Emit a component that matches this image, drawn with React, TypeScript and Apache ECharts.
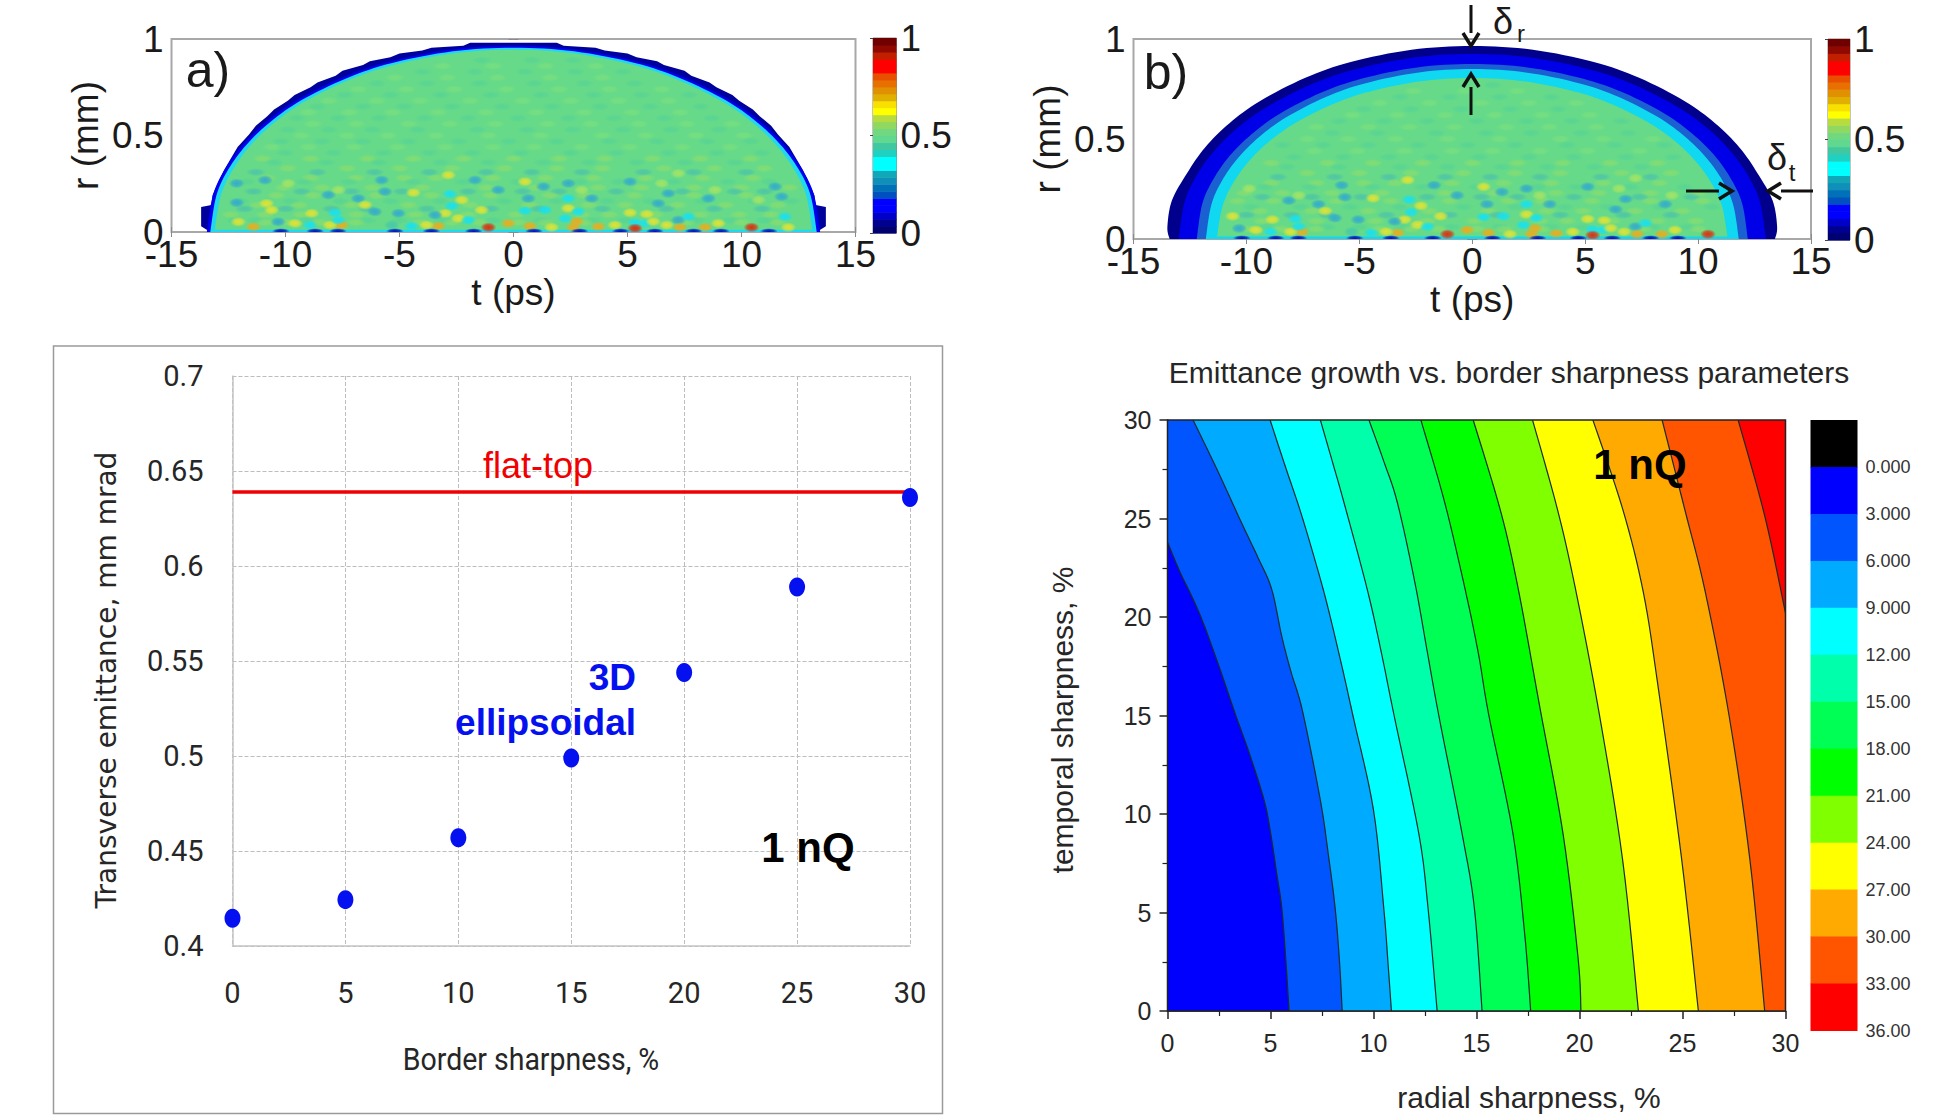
import React, { useEffect, useRef } from "react";
import * as echarts from "echarts";

// ---------- panel c ----------
const sharpness = [0, 5, 10, 15, 20, 25, 30];
const ellipsoidal = [0.4146, 0.4244, 0.457, 0.499, 0.544, 0.589, 0.636];
const flatTop = [[0, 0.639], [30, 0.639]];

// ---------- panel d ----------
const contourLabels = ["0.000", "3.000", "6.000", "9.000", "12.00", "15.00", "18.00", "21.00", "24.00", "27.00", "30.00", "33.00", "36.00"];
const bandColors = ["#0000ff", "#0055ff", "#00aaff", "#00ffff", "#00ffaa", "#00ff55", "#00ff00", "#80ff00", "#ffff00", "#ffaa00", "#ff5500", "#ff0000"];
const contour1 = [[0, 23.8], [0.6, 22.3], [1.52, 20.26], [2.4, 17.8], [3.25, 15.2], [4.0, 13.0], [4.69, 10.7], [4.98, 9.2], [5.3, 7.0], [5.55, 5.2], [5.75, 2.5], [5.9, 0]];
const contour2 = [[1.24, 30], [2.4, 27.5], [3.54, 24.9], [4.4, 23.0], [5.06, 21.4], [5.55, 19.0], [6.0, 17.2], [6.56, 15.2], [7.42, 10.7], [7.8, 8.0], [8.14, 5.2], [8.35, 2.5], [8.48, 0]];
const contour3 = [[4.98, 30], [5.7, 27.7], [6.41, 25.5], [7.1, 23.1], [7.71, 20.8], [8.4, 17.8], [9.0, 15], [10.0, 10.2], [10.5, 5.2], [10.7, 2.5], [10.87, 0]];
const contour4 = [[7.42, 30], [8.0, 27.9], [8.57, 25.8], [9.72, 21.3], [10.4, 18.1], [11.0, 15], [12.2, 9], [12.65, 5.2], [13.09, 0]];
const contour5 = [[9.78, 30], [10.5, 27.9], [11.16, 25.8], [12.0, 21.8], [12.6, 18.3], [13.17, 15], [14.3, 9], [14.9, 5.2], [15.27, 0]];
const contour6 = [[12.3, 30], [13.46, 25.8], [14.47, 21.3], [15.1, 18.1], [15.6, 15], [16.77, 9], [17.34, 3.9], [17.63, 0]];
const contour7 = [[14.84, 30], [16.19, 25.3], [17.05, 21.3], [18.06, 15.5], [19.2, 9], [19.93, 2.7], [20.07, 0]];
const contour8 = [[17.72, 30], [18.92, 25.5], [19.79, 21.5], [20.94, 15.2], [22.09, 7.7], [22.86, 0]];
const contour9 = [[20.65, 30], [22.09, 25.5], [23.09, 21.3], [23.81, 16.5], [24.96, 7.7], [25.77, 0]];
const contour10 = [[24.01, 30], [25.1, 25.5], [26.1, 21.3], [27.26, 15], [28.27, 7.7], [28.99, 0]];
const contour11 = [[27.7, 30], [29.0, 25.1], [30, 20.2]];
const contours = [[[0, 30], [0, 0]], contour1, contour2, contour3, contour4, contour5, contour6, contour7, contour8, contour9, contour10, contour11];

// ---------- panels a and b: right-hand half outlines, [t, r] ----------
const aNavy = [[0, 0.98], [1.9, 0.98], [2.2, 0.965], [3.6, 0.955], [4.0, 0.94], [5.0, 0.925], [5.4, 0.905], [6.3, 0.885], [6.6, 0.865], [7.5, 0.835], [7.8, 0.81], [8.6, 0.775], [8.9, 0.75], [9.6, 0.71], [9.9, 0.68], [10.5, 0.635], [10.8, 0.6], [11.3, 0.55], [11.6, 0.505], [12.1, 0.44], [12.3, 0.4], [12.7, 0.32], [12.9, 0.27], [13.2, 0.19], [13.25, 0.14], [13.7, 0.13], [13.7, 0.03], [13.3, 0]];
const aBlue = [[0, 0.965], [2.69, 0.946], [5.38, 0.885], [7.4, 0.806], [9.42, 0.689], [10.76, 0.579], [11.84, 0.458], [12.64, 0.329], [13.18, 0.192], [13.45, 0]];
const aCyan = [[0, 0.955], [2.66, 0.936], [5.32, 0.876], [7.32, 0.797], [9.31, 0.682], [10.64, 0.573], [11.7, 0.454], [12.5, 0.326], [13.03, 0.19], [13.3, 0]];
const aGreen = [[0, 0.945], [2.62, 0.926], [5.24, 0.866], [7.2, 0.789], [9.17, 0.675], [10.48, 0.568], [11.53, 0.45], [12.31, 0.323], [12.84, 0.188], [13.1, 0.012]];
const bNavy = [[0, 0.965], [2.69, 0.946], [5.38, 0.885], [7.39, 0.806], [9.41, 0.689], [10.75, 0.579], [11.83, 0.458], [12.63, 0.329], [13.3, 0.192], [13.5, 0.06], [13.4, 0]];
const bBlue = [[0, 0.925], [2.6, 0.907], [5.2, 0.848], [7.15, 0.772], [9.1, 0.66], [10.4, 0.555], [11.44, 0.439], [12.22, 0.315], [12.74, 0.184], [13, 0]];
const bMid = [[0, 0.875], [2.44, 0.858], [4.88, 0.802], [6.71, 0.731], [8.54, 0.625], [9.76, 0.525], [10.74, 0.416], [11.47, 0.298], [11.96, 0.174], [12.2, 0]];
const bCyan = [[0, 0.85], [2.36, 0.833], [4.72, 0.779], [6.49, 0.71], [8.26, 0.607], [9.44, 0.51], [10.38, 0.404], [11.09, 0.29], [11.56, 0.169], [11.8, 0]];
const bGreen = [[0, 0.805], [2.26, 0.789], [4.52, 0.738], [6.22, 0.672], [7.91, 0.575], [9.04, 0.483], [9.94, 0.382], [10.62, 0.274], [11.07, 0.16], [11.3, 0.012]];

// speckles read from the lower part of the field: [t, r, kind]
const speckles: [number, number, string][] = [
  [-11.41, 0.027, "o"], [-9.58, 0.045, "y"], [-8.93, 0.036, "c"], [-10.61, 0.114, "y"], [-4.39, 0.204, "y"], [-2.42, 0.071, "y"],
  [-0.23, 0.045, "o"], [-1.1, 0.024, "r"], [-3.3, 0.031, "o"], [-3.81, 0.036, "y"], [-7.54, 0.036, "o"], [-8.05, 0.036, "y"],
  [-2.71, 0.135, "c"], [-2.79, 0.197, "c"], [-7.83, 0.1, "c"], [-12.95, 0.065, "c"], [-12.14, 0.152, "b"], [-8.12, 0.192, "b"],
  [-6.81, 0.174, "b"], [-5.64, 0.209, "b"], [-5.05, 0.097, "b"], [-6.08, 0.105, "b"], [-8.85, 0.097, "y"], [-10.32, 0.053, "b"],
  [-6.51, 0.14, "y"], [-3.0, 0.097, "y"], [-2.27, 0.166, "y"], [-5.34, 0.036, "t"], [-1.98, 0.062, "c"], [-1.69, 0.269, "b"],
  [-2.86, 0.295, "y"], [-10.9, 0.269, "b"], [-12.14, 0.252, "b"], [-10.83, 0.148, "y"], [-12.65, 0.148, "y"], [-9.88, 0.252, "g"],
  [-7.68, 0.218, "g"], [-5.78, 0.269, "b"], [-1.4, 0.114, "y"], [-0.67, 0.218, "b"], [-12.07, 0.053, "y"], [-7.68, 0.062, "c"],
  [-3.44, 0.088, "b"], [-4.47, 0.031, "c"],
  [0.72, 0.031, "o"], [1.67, 0.024, "y"], [2.4, 0.123, "y"], [2.77, 0.054, "o"], [2.62, 0.024, "o"], [0.5, 0.11, "c"], [1.38, 0.114, "c"],
  [2.4, 0.174, "c"], [2.84, 0.105, "c"], [2.26, 0.07, "c"], [3.72, 0.028, "o"], [4.45, 0.036, "y"], [5.11, 0.1, "y"], [5.84, 0.093, "y"],
  [5.33, 0.048, "c"], [5.77, 0.045, "c"], [6.13, 0.054, "y"], [6.72, 0.036, "y"], [7.23, 0.062, "b"], [5.33, 0.019, "r"], [7.3, 0.024, "o"],
  [8.4, 0.024, "o"], [10.44, 0.024, "r"], [8.98, 0.045, "y"], [7.67, 0.079, "c"], [5.11, 0.261, "b"], [6.79, 0.2, "b"], [0.65, 0.174, "b"],
  [1.31, 0.235, "b"], [3.43, 0.174, "b"], [8.55, 0.174, "b"], [6.35, 0.148, "b"], [0.5, 0.261, "y"], [2.4, 0.252, "b"], [6.5, 0.252, "g"],
  [8.84, 0.218, "g"], [10.74, 0.166, "g"], [11.76, 0.183, "b"], [12.64, 0.071, "b"], [11.9, 0.079, "c"], [12.05, 0.024, "y"], [11.47, 0.235, "b"],
  [2.99, 0.218, "g"], [7.23, 0.304, "g"],
];
const baselineBlobs = [-10.2, -8.7, -7.7, -5.2, -3.6, -1.75, 0.9, 2.9, 4.7, 6.2, 7.9, 9.1, 11.2];

// faint grain of the field, estimated row by row: [r, kind, t values]
const grainRows: [number, string, number[]][] = [
  [0.92, "p", [-2.5, -0.6, 1.3, 3.2]],
  [0.89, "q", [-3.6, -1.4, 0.8, 2.6, 4.5]],
  [0.86, "p", [-5.4, -3.1, -0.9, 1.4, 3.6, 5.7]],
  [0.83, "q", [-6.2, -4.0, -1.7, 0.5, 2.7, 4.8, 6.5]],
  [0.8, "p", [-7.3, -5.2, -2.9, -0.7, 1.6, 3.9, 6.1, 7.6]],
  [0.77, "q", [-7.9, -6.0, -3.8, -1.5, 0.9, 3.1, 5.3, 7.4]],
  [0.74, "p", [-8.5, -6.8, -4.7, -2.6, -0.3, 2.0, 4.2, 6.5, 8.6]],
  [0.71, "q", [-9.1, -7.4, -5.4, -3.2, -1.0, 1.2, 3.5, 5.6, 7.7, 9.3]],
  [0.68, "p", [-9.8, -8.1, -6.0, -4.1, -1.9, 0.4, 2.5, 4.6, 6.8, 8.9]],
  [0.65, "q", [-10.0, -8.6, -6.6, -4.8, -2.7, -0.5, 1.7, 3.8, 6.0, 8.2, 10.1]],
  [0.62, "p", [-10.6, -9.0, -7.2, -5.3, -3.3, -1.2, 1.0, 3.1, 5.2, 7.3, 9.4, 10.5]],
  [0.59, "q", [-11.0, -9.5, -7.7, -5.9, -3.9, -2.0, 0.2, 2.4, 4.4, 6.6, 8.7, 10.6]],
  [0.56, "p", [-10.7, -8.8, -6.9, -4.6, -2.8, -0.8, 1.5, 3.4, 5.5, 7.6, 9.6, 11.1]],
  [0.53, "q", [-11.4, -9.9, -8.1, -6.2, -4.2, -1.6, 0.6, 2.6, 4.8, 6.9, 9.0, 10.8]],
  [0.5, "p", [-11.2, -9.3, -7.3, -5.5, -3.4, -1.1, 1.2, 3.9, 5.8, 8.0, 10.1, 11.6]],
  [0.47, "q", [-11.7, -10.2, -8.4, -6.6, -4.6, -2.4, -0.2, 1.9, 4.2, 6.3, 8.5, 10.4, 11.9]],
  [0.44, "p", [-12.1, -10.6, -9.0, -7.0, -5.1, -3.0, -0.9, 0.9, 3.0, 5.1, 7.4, 9.5, 11.3]],
  [0.41, "q", [-11.9, -10.0, -7.9, -5.7, -3.7, -1.8, 0.3, 2.5, 4.5, 6.8, 8.9, 10.9, 12.3]],
  [0.38, "l", [-11.0, -8.9, -6.4, -4.4, -2.2, 0.0, 2.0, 4.0, 6.1, 8.2, 10.4]],
  [0.36, "q", [-12.4, -10.5, -8.2, -5.9, -3.2, -1.1, 1.3, 3.3, 5.4, 7.5, 9.7, 11.7]],
  [0.33, "l", [-12.2, -9.9, -7.3, -5.0, -2.7, -0.4, 1.9, 3.9, 6.6, 8.8, 11.0, 12.4]],
  [0.31, "b", [-11.3, -8.6, -6.1, -3.7, -1.2, 0.8, 3.0, 5.7, 7.9, 10.2]],
  [0.28, "l", [-12.6, -10.8, -8.9, -6.9, -4.8, -3.4, -0.9, 1.4, 3.5, 5.8, 8.3, 10.5, 12.2]],
  [0.26, "q", [-11.7, -9.2, -7.2, -4.4, -2.2, 0.2, 2.9, 4.6, 7.0, 9.4, 11.2]],
  [0.23, "l", [-12.4, -10.1, -8.4, -6.2, -4.0, -1.2, 1.0, 3.7, 5.6, 7.9, 10.0, 12.1]],
  [0.21, "b", [-11.4, -9.3, -7.1, -4.9, -2.0, 0.4, 2.0, 4.5, 7.4, 9.7, 11.0]],
  [0.19, "l", [-12.9, -10.4, -8.8, -6.0, -3.6, -1.0, 1.6, 3.1, 5.3, 7.9, 10.2, 12.4]],
  [0.16, "q", [-12.0, -9.8, -7.6, -5.4, -3.2, -0.4, 1.9, 4.1, 6.0, 8.3, 10.6, 12.2]],
  [0.14, "l", [-12.7, -11.2, -9.4, -7.1, -4.6, -1.9, 0.7, 3.3, 4.9, 7.2, 9.3, 11.6]],
  [0.12, "b", [-11.8, -10.0, -8.0, -6.4, -3.8, -1.0, 1.1, 3.9, 6.7, 8.8, 10.9]],
  [0.09, "l", [-12.4, -10.9, -9.3, -6.9, -4.3, -2.0, 0.1, 3.0, 4.2, 6.2, 8.2, 9.9, 11.3, 12.6]],
  [0.06, "q", [-12.2, -11.3, -9.1, -6.4, -5.0, -3.1, -0.9, 1.2, 3.5, 4.9, 8.0, 9.5, 11.0]],
  [0.05, "l", [-12.7, -10.9, -9.9, -8.5, -6.9, -4.1, -2.7, -1.5, 0.2, 1.4, 3.1, 5.8, 7.6, 10.0, 11.6]],
];

const colourbarSteps = ["#000070", "#000090", "#0000c8", "#0000ff", "#0000ff", "#0050c0", "#0070b8", "#1090b8", "#10a8b8", "#00ffff", "#00ffff", "#20d0c0", "#40c8a0", "#60d890", "#70d880", "#90d860", "#b8dc40", "#ffff00", "#f8e000", "#e0b000", "#e09000", "#e87000", "#e85000", "#ff0000", "#ff0000", "#c02000", "#900800", "#700000"];
const speckleRgb: Record<string, string> = { y: "228,228,50", o: "240,170,24", r: "224,40,10", c: "20,225,245", b: "50,170,205", g: "165,228,100", t: "70,200,170", p: "140,228,118", q: "72,205,160", l: "170,224,86", d: "0,16,192" };

const SANS = "Liberation Sans";
const NARROW = "Roboto";

// smooth a read outline for drawing (same job as a line series' smooth option)
function curve(p: number[][]) {
  const out: number[][] = [];
  for (let i = 0; i < p.length - 1; i++) {
    const a = p[Math.max(i - 1, 0)], b = p[i], c = p[i + 1], d = p[Math.min(i + 2, p.length - 1)];
    for (let k = 0; k < 8; k++) {
      const u = k / 8, u2 = u * u, u3 = u2 * u;
      out.push([0, 1].map((j) => 0.5 * (2 * b[j] + (c[j] - a[j]) * u + (2 * a[j] - 5 * b[j] + 4 * c[j] - d[j]) * u2 + (3 * b[j] - a[j] - 3 * c[j] + d[j]) * u3)));
    }
  }
  out.push(p[p.length - 1]);
  return out;
}

function halfEllipse(right: number[][], smooth: boolean) {
  const all = [...right.slice().reverse().map(([t, r]) => [-t, r]), ...right.slice(1)];
  return smooth ? curve(all) : all;
}

function soft(kind: string, alpha: number) {
  const rgb = speckleRgb[kind];
  return {
    type: "radial", x: 0.5, y: 0.5, r: 0.5,
    colorStops: [{ offset: 0, color: `rgba(${rgb},${alpha})` }, { offset: 0.55, color: `rgba(${rgb},${alpha * 0.75})` }, { offset: 1, color: `rgba(${rgb},0)` }],
  };
}

function fieldSeries(xi: number, yi: number, layers: [number[][], string, boolean][], T: number, R: number) {
  const inside = (q: number, r: number) => (q / T) * (q / T) + (r / R) * (r / R) < 0.93;
  const grain: any[] = [];
  grainRows.forEach(([r, kind, ts]) => ts.forEach((q) => { if (inside(q, r)) grain.push([q, r, kind]); }));
  return [
    {
      type: "custom", xAxisIndex: xi, yAxisIndex: yi, silent: true, z: 3, clip: true,
      data: layers.map((_, i) => [i]),
      renderItem: (_: any, api: any) => {
        const l = layers[api.value(0)];
        return { type: "polygon", shape: { points: halfEllipse(l[0], l[2]).map((p) => api.coord(p)) }, style: { fill: l[1] } };
      },
    },
    {
      type: "custom", xAxisIndex: xi, yAxisIndex: yi, silent: true, z: 4, clip: true,
      data: grain, encode: { x: 0, y: 1 },
      renderItem: (_: any, api: any) => {
        const c = api.coord([api.value(0), api.value(1)]);
        return { type: "ellipse", shape: { cx: c[0], cy: c[1], rx: 10, ry: 4 }, style: { fill: soft(api.value(2), 0.42) } };
      },
    },
    {
      type: "custom", xAxisIndex: xi, yAxisIndex: yi, silent: true, z: 5, clip: true,
      data: speckles.filter((s) => inside(s[0], s[1])).map((s) => [s[0], s[1], s[2]]), encode: { x: 0, y: 1 },
      renderItem: (_: any, api: any) => {
        const c = api.coord([api.value(0), api.value(1)]);
        return { type: "ellipse", shape: { cx: c[0], cy: c[1], rx: 8, ry: 5 }, style: { fill: soft(api.value(2), 0.95) } };
      },
    },
    {
      type: "custom", xAxisIndex: xi, yAxisIndex: yi, silent: true, z: 6, clip: true,
      data: baselineBlobs.filter((q) => Math.abs(q) < T - 1).map((q) => [q, 0.004]), encode: { x: 0, y: 1 },
      renderItem: (_: any, api: any) => {
        const c = api.coord([api.value(0), api.value(1)]);
        return { type: "ellipse", shape: { cx: c[0], cy: c[1], rx: 9, ry: 3 }, style: { fill: soft("d", 1) } };
      },
    },
  ];
}

function colourbarSeries(xi: number, yi: number) {
  return {
    type: "custom", xAxisIndex: xi, yAxisIndex: yi, silent: true, z: 3,
    data: colourbarSteps.map((_, i) => [i]),
    renderItem: (_: any, api: any) => {
      const i = api.value(0);
      const a = api.coord([0, i / colourbarSteps.length]);
      const b = api.coord([1, (i + 1) / colourbarSteps.length]);
      return { type: "rect", shape: { x: a[0], y: b[1], width: b[0] - a[0], height: a[1] - b[1] + 0.6 }, style: { fill: colourbarSteps[i] } };
    },
  };
}

const BIG = 37;
const hidden = { show: false };

function imgAxes(g: number, nameGapX: number, xMargin: number) {
  const line = { show: false };
  const tick = { show: true, inside: true, length: 5, lineStyle: { color: "#8a8a8a", width: 1 } };
  const lab = { color: "#1a1a1a", fontFamily: SANS, fontSize: BIG };
  return {
    x: [
      { gridIndex: g, type: "value", min: -15, max: 15, interval: 5, position: "bottom", axisLine: line, axisTick: tick, splitLine: hidden, axisLabel: { ...lab, margin: xMargin, hideOverlap: false }, name: "t (ps)", nameLocation: "middle", nameGap: nameGapX, nameTextStyle: { ...lab } },
      { gridIndex: g, type: "value", min: -15, max: 15, interval: 5, position: "top", axisLine: line, axisTick: tick, splitLine: hidden, axisLabel: hidden },
    ],
    y: [
      { gridIndex: g, type: "value", min: 0, max: 1, interval: 0.5, position: "left", axisLine: line, axisTick: tick, splitLine: hidden, axisLabel: { ...lab, margin: 8, hideOverlap: false }, name: "r (mm)", nameLocation: "middle", nameGap: 68, nameTextStyle: { ...lab } },
      { gridIndex: g, type: "value", min: 0, max: 1, interval: 0.5, position: "right", axisLine: line, axisTick: tick, splitLine: hidden, axisLabel: hidden },
    ],
  };
}

function cbarAxes(g: number) {
  return {
    x: { gridIndex: g, type: "value", min: 0, max: 1, show: false },
    y: {
      gridIndex: g, type: "value", min: 0, max: 1, interval: 0.5, position: "right",
      axisLine: { show: false }, splitLine: hidden,
      axisTick: { show: true, inside: true, length: 3, lineStyle: { color: "#444" } },
      axisLabel: { color: "#1a1a1a", fontFamily: SANS, fontSize: BIG, margin: 4, hideOverlap: false },
    },
  };
}

const t = (text: string, x: number, y: number, font: string, fill: string, align = "center", rotation = 0, scaleX = 1) => ({
  type: "text", x, y, z: 100, rotation, scaleX,
  style: { text, font, fill, align, verticalAlign: "middle" },
});

function arrow(x1: number, y1: number, x2: number, y2: number) {
  const a = Math.atan2(y2 - y1, x2 - x1);
  const L = 13, W = 8;
  const bx = x2 - Math.cos(a) * L, by = y2 - Math.sin(a) * L;
  const nx = -Math.sin(a) * W, ny = Math.cos(a) * W;
  return [
    { type: "line", z: 100, shape: { x1, y1, x2: bx, y2: by }, style: { stroke: "#111", lineWidth: 3 } },
    { type: "polyline", z: 100, shape: { points: [[bx + nx, by + ny], [x2, y2], [bx - nx, by - ny]] }, style: { stroke: "#111", lineWidth: 3.5, fill: "none" } },
  ];
}

export default function App() {
  const ref = useRef<HTMLDivElement>(null);
  useEffect(() => {
    document.body.style.margin = "0";
    document.body.style.background = "#fff";
    const chart = echarts.init(ref.current!, undefined, { renderer: "svg" });

    const free = { outerBoundsMode: "none" };
    const boxStyle = { show: true, borderColor: "#a8a8a8", borderWidth: 2, backgroundColor: "transparent", ...free };
    const A = imgAxes(0, 27, 4);
    const B = imgAxes(2, 34, 4);
    const Ac = cbarAxes(1);
    const Bc = cbarAxes(3);
    const dashed = { show: true, lineStyle: { color: "#bdbdbd", type: "dashed", width: 1 } };

    const option: any = {
      animation: false,
      backgroundColor: "#fff",
      grid: [
        { left: 171.5, top: 39, width: 684, height: 193, ...boxStyle },
        { left: 873, top: 38, width: 23.5, height: 195, show: true, borderColor: "#888", borderWidth: 1, backgroundColor: "transparent", ...free },
        { left: 1133.5, top: 39, width: 677.5, height: 200, ...boxStyle },
        { left: 1828, top: 39, width: 22, height: 201, show: true, borderColor: "#888", borderWidth: 1, backgroundColor: "transparent", ...free },
        { left: 232.5, top: 376, width: 677.5, height: 570, ...free },
        { left: 1167.5, top: 420, width: 618, height: 591, show: true, borderColor: "#222", borderWidth: 1.5, backgroundColor: "transparent", z: 10, ...free },
        { left: 1810.5, top: 420, width: 47, height: 610.5, ...free },
      ],
      xAxis: [
        A.x[0], A.x[1], Ac.x, B.x[0], B.x[1], Bc.x,
        {
          gridIndex: 4, type: "value", min: 0, max: 30, interval: 5,
          axisLine: { show: true, lineStyle: { color: "#c4c4c4", width: 1.5 } }, axisTick: hidden, splitLine: dashed,
          axisLabel: { color: "#262626", fontFamily: NARROW, fontSize: 29, margin: 32, hideOverlap: false },
        },
        {
          gridIndex: 5, type: "value", min: 0, max: 30, interval: 5,
          axisLine: { show: true, lineStyle: { color: "#222", width: 1.5 } },
          axisTick: { show: true, length: 8, lineStyle: { color: "#222", width: 1.5 } },
          minorTick: { show: true, splitNumber: 2, length: 5, lineStyle: { color: "#222", width: 1.2 } },
          splitLine: hidden,
          axisLabel: { color: "#262626", fontFamily: SANS, fontSize: 25, margin: 19, hideOverlap: false },
        },
        { gridIndex: 6, type: "value", min: 0, max: 1, show: false },
      ],
      yAxis: [
        A.y[0], A.y[1], Ac.y, B.y[0], B.y[1], Bc.y,
        {
          gridIndex: 4, type: "value", min: 0.4, max: 0.7, interval: 0.05,
          axisLine: { show: true, lineStyle: { color: "#c4c4c4", width: 1.5 } }, axisTick: hidden, splitLine: dashed,
          axisLabel: { color: "#262626", fontFamily: NARROW, fontSize: 29, margin: 29, hideOverlap: false },
        },
        {
          gridIndex: 5, type: "value", min: 0, max: 30, interval: 5,
          axisLine: { show: true, lineStyle: { color: "#222", width: 1.5 } },
          axisTick: { show: true, length: 8, lineStyle: { color: "#222", width: 1.5 } },
          minorTick: { show: true, splitNumber: 2, length: 5, lineStyle: { color: "#222", width: 1.2 } },
          splitLine: hidden,
          axisLabel: { color: "#262626", fontFamily: SANS, fontSize: 25, margin: 16, hideOverlap: false },
        },
        {
          gridIndex: 6, type: "value", min: -3, max: 36, interval: 3, inverse: true, position: "right",
          axisLine: { show: false }, axisTick: hidden, splitLine: hidden,
          axisLabel: {
            color: "#333", fontFamily: SANS, fontSize: 18, margin: 8, hideOverlap: false,
            formatter: (v: number) => (v < 0 ? "" : contourLabels[Math.round(v / 3)]),
          },
        },
      ],
      series: [
        ...fieldSeries(0, 0, [[aNavy, "#00009c", false], [aBlue, "#0000f0", true], [aCyan, "#20d8f0", true], [aGreen, "#66da88", true]], 13.1, 0.945),
        colourbarSeries(2, 2),
        ...fieldSeries(3, 3, [[bNavy, "#00008c", true], [bBlue, "#0000e8", true], [bMid, "#1a60d0", true], [bCyan, "#10d8f0", true], [bGreen, "#66da88", true]], 11.3, 0.805),
        colourbarSeries(5, 5),
        {
          type: "line", xAxisIndex: 6, yAxisIndex: 6, data: flatTop, showSymbol: false, z: 3,
          lineStyle: { color: "#f00000", width: 3.5 },
        },
        {
          type: "scatter", xAxisIndex: 6, yAxisIndex: 6, data: sharpness.map((x, i) => [x, ellipsoidal[i]]),
          symbol: "circle", symbolSize: [16, 19], itemStyle: { color: "#0410f0", opacity: 1 }, z: 4, clip: false,
        },
        {
          type: "custom", xAxisIndex: 7, yAxisIndex: 7, silent: true, z: 3, clip: true,
          data: contours.map((_, i) => [i]),
          renderItem: (_: any, api: any) => {
            const i = api.value(0);
            const c = i > 0 ? curve(contours[i]) : contours[i];
            const poly = [...c, [30, 0], [30, 30], [c[0][0], 30]];
            const kids: any[] = [{ type: "polygon", shape: { points: poly.map((p) => api.coord(p)) }, style: { fill: bandColors[i] } }];
            if (i > 0) kids.push({ type: "polyline", shape: { points: c.map((p) => api.coord(p)) }, style: { fill: "none", stroke: "#1c2a2a", lineWidth: 1.2 } });
            return { type: "group", children: kids };
          },
        },
        {
          type: "custom", xAxisIndex: 8, yAxisIndex: 8, silent: true, z: 3,
          data: ["#000000", ...bandColors].map((_, i) => [i]),
          renderItem: (_: any, api: any) => {
            const i = api.value(0);
            const colour = ["#000000", ...bandColors][i];
            const a = api.coord([0, -3 + 3 * i]);
            const b = api.coord([1, 3 * i]);
            return { type: "rect", shape: { x: a[0], y: a[1], width: b[0] - a[0], height: b[1] - a[1] + 0.5 }, style: { fill: colour } };
          },
        },
      ],
      graphic: {
        elements: [
          { type: "rect", z: 1, shape: { x: 53.5, y: 346, width: 889, height: 767.5 }, style: { fill: "none", stroke: "#9a9a9a", lineWidth: 1.5 } },
          t("a)", 208, 70, `50px ${SANS}`, "#1a1a1a"),
          t("b)", 1166, 72, `50px ${SANS}`, "#1a1a1a"),
          t("δ", 1503, 21, `36px ${SANS}`, "#1a1a1a"),
          t("r", 1521, 33, `24px ${SANS}`, "#1a1a1a"),
          t("δ", 1777, 157, `36px ${SANS}`, "#1a1a1a"),
          t("t", 1792, 172, `24px ${SANS}`, "#1a1a1a"),
          ...arrow(1471, 5, 1471, 46),
          ...arrow(1471, 115, 1471, 74),
          ...arrow(1686, 191, 1732, 191),
          ...arrow(1813, 191, 1768, 191),
          t("flat-top", 538, 465, `36px ${SANS}`, "#f00000"),
          t("3D", 636, 677, `bold 37px ${SANS}`, "#0410f0", "right"),
          t("ellipsoidal", 636, 722, `bold 37px ${SANS}`, "#0410f0", "right"),
          t("1 nQ", 808, 847, `bold 42px ${SANS}`, "#000"),
          t("Border sharpness, %", 531, 1059, `32px ${NARROW}`, "#262626", "center", 0, 0.89),
          t("Transverse emittance, mm mrad", 106, 680, `28px DejaVu Sans`, "#262626", "center", Math.PI / 2),
          t("Emittance growth vs. border sharpness parameters", 1509, 372, `30px ${SANS}`, "#262626"),
          t("1 nQ", 1640, 464, `bold 42px ${SANS}`, "#000"),
          t("radial sharpness, %", 1529, 1097, `30px ${SANS}`, "#262626"),
          t("temporal sharpness, %", 1062, 720, `30px ${SANS}`, "#262626", "center", Math.PI / 2),
        ],
      },
    };
    chart.setOption(option);
    return () => chart.dispose();
  }, []);
  return <div ref={ref} style={{ position: "fixed", left: 0, top: 0, width: 1960, height: 1115 }} />;
}
